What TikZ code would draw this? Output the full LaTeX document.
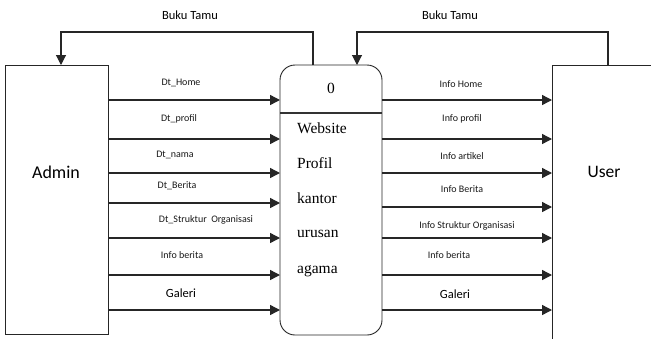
\documentclass[tikz,border=0pt]{standalone}
\usepackage{fontspec}
\setmainfont{Carlito}
\newfontfamily\serifproc{Liberation Serif}
\usetikzlibrary{arrows.meta}
\tikzset{
  entity/.style={draw=black!85, line width=0.9pt, rectangle, inner sep=0pt},
  procbox/.style={draw=black!85, line width=0.9pt, rectangle, rounded corners=15pt, inner sep=0pt, minimum width=102pt, minimum height=270pt},
  flow/.style={draw=black!85, line width=1.4pt, -{Triangle[length=10pt,width=10pt]}},
  plain/.style={draw=black!80, line width=1.1pt},
  lbl/.style={font=\fontsize{10}{12}\selectfont, inner sep=0pt, text=black!90},
  biglbl/.style={font=\fontsize{12.5}{14}\selectfont, inner sep=0pt},
  ptxt/.style={font=\serifproc\fontsize{15.5}{18}\selectfont, inner sep=0pt, anchor=west}
}
\begin{document}
\begin{tikzpicture}[x=1pt,y=-1pt]
\useasboundingbox (0,0) rectangle (651,338);
\clip (0,0) rectangle (651,338);
\fill[white] (0,0) rectangle (651,338);
% entities
\node[entity, minimum width=103pt, minimum height=269pt] (admin) at (56.5,199.5) {};
\node[font=\fontsize{18}{20}\selectfont] (admintxt) at (56,172) {Admin};
\node[entity, minimum width=150pt, minimum height=335pt] (user) at (627,232.5) {};
\node[font=\fontsize{17.5}{20}\selectfont] (usertxt) at (604,172) {User};
% process
\node[procbox] (proc) at (331,200) {};
\coordinate (dl) at (280,113);
\coordinate (dr) at (382,113);
\draw[plain] (dl) -- (dr);
\node[font=\serifproc\fontsize{15.5}{18}\selectfont] (pnum) at (331,88) {0};
\node[ptxt] (p1) at (297,128) {Website};
\node[ptxt] (p2) at (297,163) {Profil};
\node[ptxt] (p3) at (297,198) {kantor};
\node[ptxt] (p4) at (297,234) {urusan};
\node[ptxt] (p5) at (297,271) {agama};
% Buku Tamu loops
\coordinate (bl1) at (313,65);
\coordinate (bl2) at (313,32);
\coordinate (bl3) at (61,32);
\coordinate (bl4) at (61,65);
\draw[flow, line width=1.1pt] (bl1) -- (bl2) -- (bl3) -- (bl4);
\node[biglbl] (bt1) at (190,15) {Buku Tamu};
\coordinate (br1) at (608,65);
\coordinate (br2) at (608,32);
\coordinate (br3) at (357,32);
\coordinate (br4) at (357,65);
\draw[flow, line width=1.1pt] (br1) -- (br2) -- (br3) -- (br4);
\node[biglbl] (bt2) at (450,15) {Buku Tamu};
% left flows
\foreach \y/\n in {100/a1,139/a2,173/a3,203/a4,238/a5,275/a6,310/a7}{
  \coordinate (\n s) at (108,\y);
  \coordinate (\n e) at (280,\y);
  \draw[flow] (\n s) -- (\n e);
}
\node[lbl] (la1) at (181,83) {Dt\_Home};
\node[lbl] (la2) at (179,119) {Dt\_profil};
\node[lbl] (la3) at (175,155) {Dt\_nama};
\node[lbl] (la4) at (177,186) {Dt\_Berita};
\node[lbl] (la5) at (206,220) {Dt\_Struktur\ \ Organisasi};
\node[lbl] (la6) at (182,255) {Info berita};
\node[biglbl] (la7) at (181,293) {Galeri};
% right flows
\foreach \y/\n in {100/b1,139/b2,173/b3,207/b4,238/b5,275/b6,310/b7}{
  \coordinate (\n s) at (382,\y);
  \coordinate (\n e) at (552,\y);
  \draw[flow] (\n s) -- (\n e);
}
\node[lbl] (lb1) at (461,84) {Info Home};
\node[lbl] (lb2) at (462,119) {Info profil};
\node[lbl] (lb3) at (462,156) {Info artikel};
\node[lbl] (lb4) at (462,189) {Info Berita};
\node[lbl] (lb5) at (467,226) {Info Struktur\ Organisasi};
\node[lbl] (lb6) at (449,255) {Info berita};
\node[biglbl] (lb7) at (455,294) {Galeri};
\end{tikzpicture}
\end{document}
